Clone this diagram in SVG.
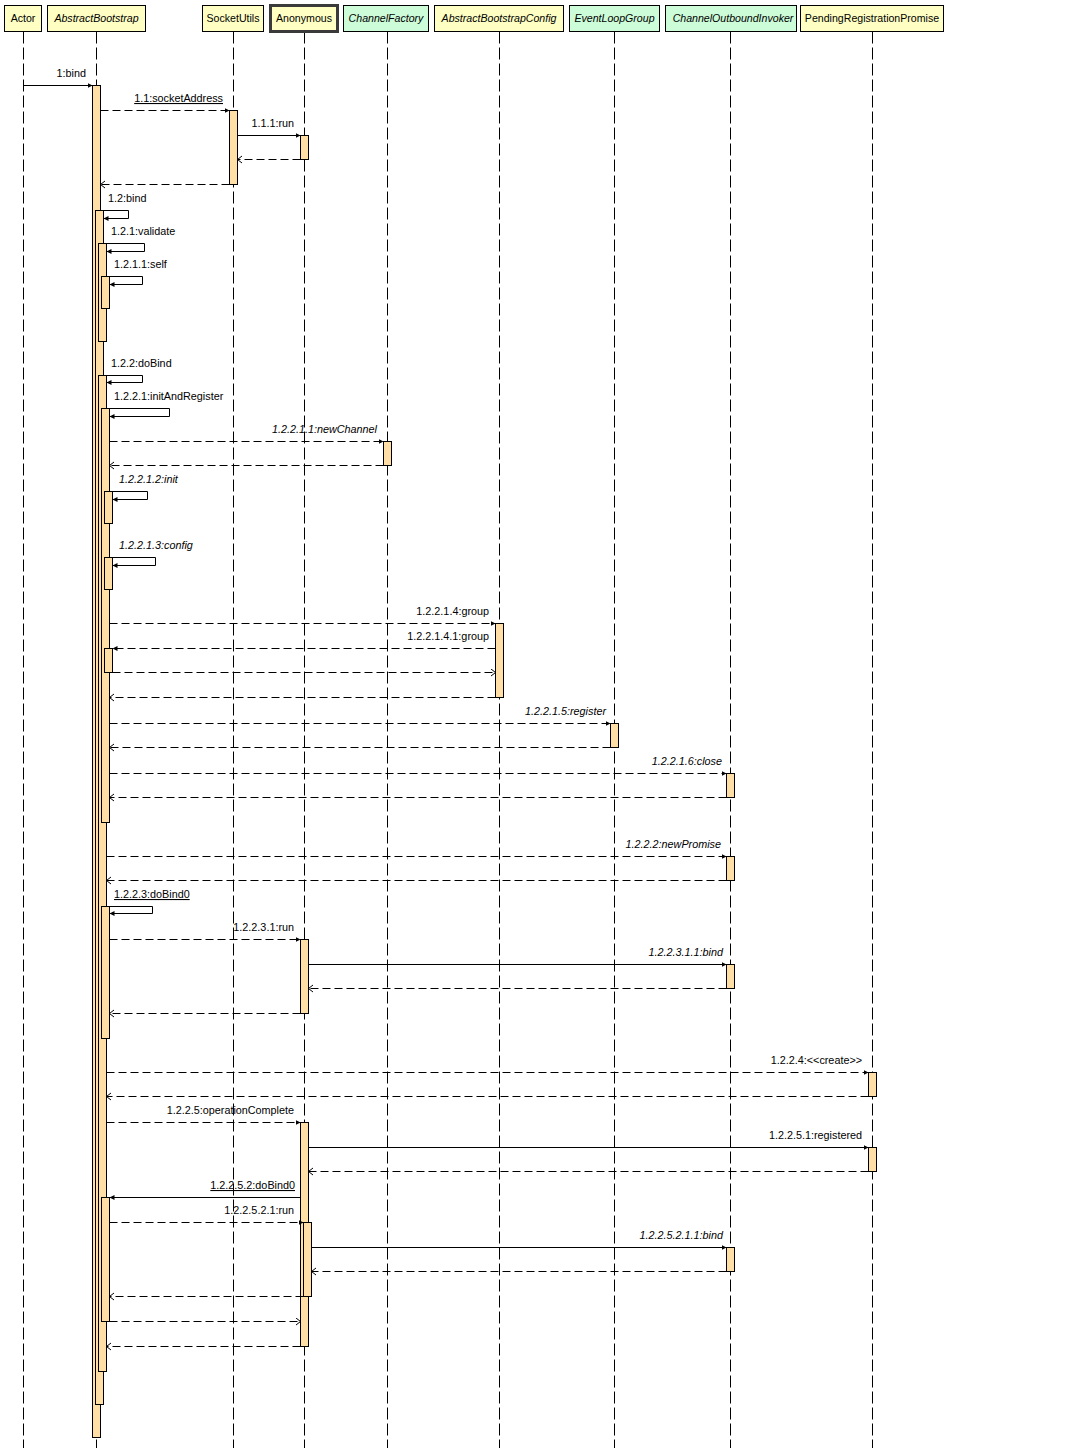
<svg xmlns="http://www.w3.org/2000/svg" width="1092" height="1448" viewBox="0 0 1092 1448">
<style>
text{font-family:"Liberation Sans",Arial,sans-serif;fill:#000}
.hd{font-size:10.6px;text-anchor:middle}
.it{font-style:italic}
.lb{font-size:10.8px}
.e{text-anchor:end}
.u{text-decoration:underline}
.box{stroke:#000;stroke-width:1}
.y{fill:#ffffc4}
.g{fill:#cdfcd8}
.life{stroke:#000;stroke-width:1;stroke-dasharray:12,4;fill:none}
.act{fill:#ffdfa6;stroke:#000;stroke-width:1}
.m{fill:none;stroke:#000;stroke-width:1}
.s{marker-end:url(#fa)}
.d{stroke-dasharray:8,4}
.r{stroke-dasharray:8,4;marker-end:url(#oa)}
.df{stroke-dasharray:8,4;marker-end:url(#fa)}
</style>
<defs>
<marker id="fa" markerUnits="userSpaceOnUse" markerWidth="6" markerHeight="6" refX="5" refY="2.5" orient="auto"><path d="M0,0 L5,2.5 L0,5 z" fill="#000"/></marker>
<marker id="oa" markerUnits="userSpaceOnUse" markerWidth="8" markerHeight="10" refX="5" refY="4" orient="auto"><path d="M0.5,0.5 L5,4 L0.5,7.5" fill="none" stroke="#000" stroke-width="1"/></marker>
</defs>
<rect width="1092" height="1448" fill="#fff"/>

<g id="actor">
<line class="life" x1="23.5" y1="31.5" x2="23.5" y2="1448"/>
<rect class="box y" x="4.5" y="5.5" width="37" height="26"/>
<text class="hd" x="23" y="22">Actor</text>
</g>

<g id="abstractBootstrap">
<line class="life" x1="96.5" y1="31.5" x2="96.5" y2="1448"/>
<rect class="box y" x="47.5" y="5.5" width="98" height="26"/>
<text class="hd it" x="96.5" y="22">AbstractBootstrap</text>
<rect class="act" x="92.5" y="85.5" width="8" height="1352"/>
<rect class="act" x="95.5" y="210.5" width="8" height="1194"/>
<rect class="act" x="98.5" y="243.5" width="8" height="98"/>
<rect class="act" x="101.5" y="276.5" width="8" height="32"/>
<rect class="act" x="98.5" y="375.5" width="8" height="996"/>
<rect class="act" x="101.5" y="408.5" width="8" height="414"/>
<rect class="act" x="104.5" y="491.5" width="8" height="32"/>
<rect class="act" x="104.5" y="557.5" width="8" height="32"/>
<rect class="act" x="104.5" y="648.5" width="8" height="24"/>
<rect class="act" x="101.5" y="906.5" width="8" height="132"/>
<rect class="act" x="101.5" y="1197.5" width="8" height="124"/>
</g>

<g id="socketUtils">
<line class="life" x1="233.5" y1="31.5" x2="233.5" y2="1448"/>
<rect class="box y" x="202.5" y="5.5" width="61" height="26"/>
<text class="hd" x="233" y="22">SocketUtils</text>
<rect class="act" x="229.5" y="110.5" width="8" height="74"/>
</g>

<g id="anonymous">
<line class="life" x1="304.5" y1="31.5" x2="304.5" y2="1448"/>
<rect x="270.5" y="5.5" width="67" height="26" fill="#ffffc4" stroke="#3a3a3a" stroke-width="3"/>
<text class="hd" x="304" y="22">Anonymous</text>
<rect class="act" x="300.5" y="135.5" width="8" height="24"/>
<rect class="act" x="300.5" y="939.5" width="8" height="74"/>
<rect class="act" x="300.5" y="1122.5" width="8" height="224"/>
<rect class="act" x="303.5" y="1222.5" width="8" height="74"/>
</g>

<g id="channelFactory">
<line class="life" x1="387.5" y1="31.5" x2="387.5" y2="1448"/>
<rect class="box g" x="343.5" y="5.5" width="85" height="26"/>
<text class="hd it" x="386" y="22">ChannelFactory</text>
<rect class="act" x="383.5" y="441.5" width="8" height="24"/>
</g>

<g id="abstractBootstrapConfig">
<line class="life" x1="499.5" y1="31.5" x2="499.5" y2="1448"/>
<rect class="box y" x="434.5" y="5.5" width="129" height="26"/>
<text class="hd it" x="499" y="22">AbstractBootstrapConfig</text>
<rect class="act" x="495.5" y="623.5" width="8" height="74"/>
</g>

<g id="eventLoopGroup">
<line class="life" x1="614.5" y1="31.5" x2="614.5" y2="1448"/>
<rect class="box g" x="569.5" y="5.5" width="90" height="26"/>
<text class="hd it" x="614.5" y="22">EventLoopGroup</text>
<rect class="act" x="610.5" y="723.5" width="8" height="24"/>
</g>

<g id="channelOutboundInvoker">
<line class="life" x1="730.5" y1="31.5" x2="730.5" y2="1448"/>
<rect class="box g" x="665.5" y="5.5" width="131" height="26"/>
<text class="hd it" x="733" y="22">ChannelOutboundInvoker</text>
<rect class="act" x="726.5" y="773.5" width="8" height="24"/>
<rect class="act" x="726.5" y="856.5" width="8" height="24"/>
<rect class="act" x="726.5" y="964.5" width="8" height="24"/>
<rect class="act" x="726.5" y="1247.5" width="8" height="24"/>
</g>

<g id="pendingRegistrationPromise">
<line class="life" x1="872.5" y1="31.5" x2="872.5" y2="1448"/>
<rect class="box y" x="800.5" y="5.5" width="143" height="26"/>
<text class="hd" x="872" y="22">PendingRegistrationPromise</text>
<rect class="act" x="868.5" y="1072.5" width="8" height="24"/>
<rect class="act" x="868.5" y="1147.5" width="8" height="24"/>
</g>

<g id="connectors">
<path class="m s" d="M23.5,85.5 H92.5"/>
<path class="m df" d="M100.5,110.5 H229.5"/>
<path class="m s" d="M237.5,135.5 H300.5"/>
<path class="m r" d="M300.5,159.5 H237.5"/>
<path class="m r" d="M229.5,184.5 H100.5"/>
<path class="m s" d="M100.5,210.5 H128.5 V218.5 H103.5"/>
<path class="m s" d="M103.5,243.5 H144.5 V251.5 H106.5"/>
<path class="m s" d="M106.5,276.5 H142.5 V284.5 H109.5"/>
<path class="m s" d="M103.5,375.5 H142.5 V382.5 H106.5"/>
<path class="m s" d="M106.5,408.5 H169.5 V416.5 H109.5"/>
<path class="m df" d="M109.5,441.5 H383.5"/>
<path class="m r" d="M383.5,465.5 H109.5"/>
<path class="m s" d="M109.5,491.5 H147.5 V499.5 H112.5"/>
<path class="m s" d="M109.5,557.5 H155.5 V565.5 H112.5"/>
<path class="m df" d="M109.5,623.5 H495.5"/>
<path class="m df" d="M495.5,648.5 H112.5"/>
<path class="m r" d="M112.5,672.5 H495.5"/>
<path class="m r" d="M495.5,697.5 H109.5"/>
<path class="m df" d="M109.5,723.5 H610.5"/>
<path class="m r" d="M610.5,747.5 H109.5"/>
<path class="m df" d="M109.5,773.5 H726.5"/>
<path class="m r" d="M726.5,797.5 H109.5"/>
<path class="m df" d="M106.5,856.5 H726.5"/>
<path class="m r" d="M726.5,880.5 H106.5"/>
<path class="m s" d="M106.5,906.5 H152.5 V913.5 H109.5"/>
<path class="m df" d="M109.5,939.5 H300.5"/>
<path class="m s" d="M308.5,964.5 H726.5"/>
<path class="m r" d="M726.5,988.5 H308.5"/>
<path class="m r" d="M300.5,1013.5 H109.5"/>
<path class="m df" d="M106.5,1072.5 H868.5"/>
<path class="m r" d="M868.5,1096.5 H106.5"/>
<path class="m df" d="M106.5,1122.5 H300.5"/>
<path class="m s" d="M308.5,1147.5 H868.5"/>
<path class="m r" d="M868.5,1171.5 H308.5"/>
<path class="m s" d="M300.5,1197.5 H109.5"/>
<path class="m df" d="M109.5,1222.5 H303.5"/>
<path class="m s" d="M311.5,1247.5 H726.5"/>
<path class="m r" d="M726.5,1271.5 H311.5"/>
<path class="m r" d="M303.5,1296.5 H109.5"/>
<path class="m r" d="M109.5,1321.5 H300.5"/>
<path class="m r" d="M300.5,1346.5 H106.5"/>
</g>

<g id="labels">
<text class="lb e" x="86" y="77">1:bind</text>
<text class="lb e u" x="223" y="102">1.1:socketAddress</text>
<text class="lb e" x="294" y="127">1.1.1:run</text>
<text class="lb" x="108" y="202">1.2:bind</text>
<text class="lb" x="111" y="235">1.2.1:validate</text>
<text class="lb" x="114" y="268">1.2.1.1:self</text>
<text class="lb" x="111" y="367">1.2.2:doBind</text>
<text class="lb" x="114" y="400">1.2.2.1:initAndRegister</text>
<text class="lb e it" x="377" y="433">1.2.2.1.1:newChannel</text>
<text class="lb it" x="119" y="483">1.2.2.1.2:init</text>
<text class="lb it" x="119" y="549">1.2.2.1.3:config</text>
<text class="lb e" x="489" y="615">1.2.2.1.4:group</text>
<text class="lb e" x="489" y="640">1.2.2.1.4.1:group</text>
<text class="lb e it" x="606" y="715">1.2.2.1.5:register</text>
<text class="lb e it" x="722" y="765">1.2.2.1.6:close</text>
<text class="lb e it" x="721" y="848">1.2.2.2:newPromise</text>
<text class="lb u" x="114" y="898">1.2.2.3:doBind0</text>
<text class="lb e" x="294" y="931">1.2.2.3.1:run</text>
<text class="lb e it" x="723" y="956">1.2.2.3.1.1:bind</text>
<text class="lb e" x="862" y="1064">1.2.2.4:&lt;&lt;create&gt;&gt;</text>
<text class="lb e" x="294" y="1114">1.2.2.5:operationComplete</text>
<text class="lb e" x="862" y="1139">1.2.2.5.1:registered</text>
<text class="lb e u" x="295" y="1189">1.2.2.5.2:doBind0</text>
<text class="lb e" x="294" y="1214">1.2.2.5.2.1:run</text>
<text class="lb e it" x="723" y="1239">1.2.2.5.2.1.1:bind</text>
</g>
</svg>
